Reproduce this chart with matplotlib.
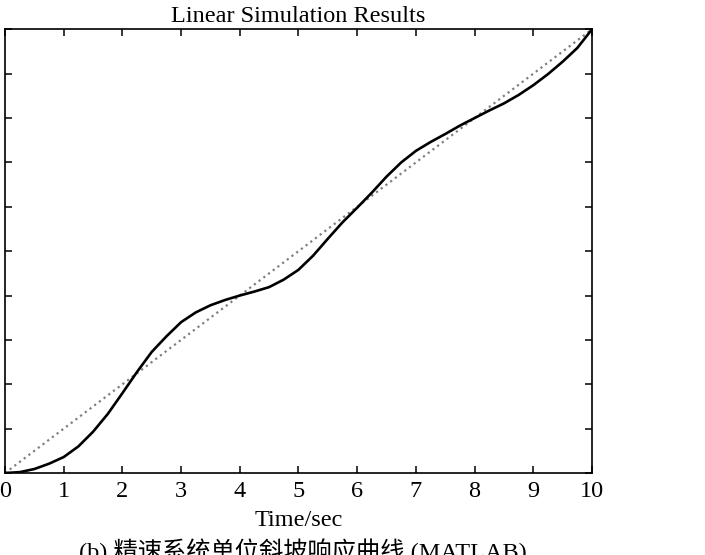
import matplotlib
matplotlib.use('Agg')
import matplotlib.pyplot as plt

# Ramp input (reference line)
ramp_t = [0, 10]
ramp_y = [0, 10]

# System response
time = [0.0, 0.25, 0.5, 0.75, 1.0, 1.25, 1.5, 1.75, 2.0, 2.25,
        2.5, 2.75, 3.0, 3.25, 3.5, 3.75, 4.0, 4.25, 4.5, 4.75,
        5.0, 5.25, 5.5, 5.75, 6.0, 6.25, 6.5, 6.75, 7.0, 7.25,
        7.5, 7.75, 8.0, 8.25, 8.5, 8.75, 9.0, 9.25, 9.5, 9.75, 10.0]
response = [0.0, 0.02, 0.09, 0.21, 0.36, 0.60, 0.93, 1.33, 1.80, 2.28,
            2.73, 3.08, 3.40, 3.62, 3.78, 3.90, 4.00, 4.09, 4.19, 4.36,
            4.58, 4.90, 5.28, 5.65, 5.98, 6.32, 6.68, 7.00, 7.26, 7.46,
            7.64, 7.83, 8.00, 8.17, 8.33, 8.52, 8.74, 8.99, 9.27, 9.58, 10.0]

xticks = list(range(0, 11))
yticks = list(range(0, 11))

serif = 'Liberation Serif'
fs = 17.5

fig = plt.figure(figsize=(7.05, 5.55), dpi=100)
ax = fig.add_axes([0.0071, 0.1477, 0.8326, 0.7995])

ax.plot(ramp_t, ramp_y, linestyle=':', color='0.5', linewidth=1.6)
ax.plot(time, response, color='black', linewidth=1.9)

ax.set_xlim(0, 10)
ax.set_ylim(0, 10)
ax.set_xticks(xticks)
ax.set_yticks(yticks)
ax.set_yticklabels([])
ax.tick_params(direction='in', length=5, width=1.1, top=True, right=True,
               pad=5.5, labelsize=fs)
for lbl in ax.get_xticklabels():
    lbl.set_family(serif)
for sp in ax.spines.values():
    sp.set_linewidth(1.2)

ax.set_title('Linear Simulation Results', family=serif, fontsize=fs, pad=5.5)
ax.set_xlabel('Time/sec', family=serif, fontsize=fs, labelpad=6)

# caption sits at the bottom edge, partly cut off as in the scan
fig.text(0.43, 1 - 551 / 555, '(b) 精速系统单位斜坡响应曲线 (MATLAB)',
         family=[serif, 'Noto Sans CJK SC'], fontsize=fs,
         ha='center', va='center')

fig.savefig('out.png', dpi=100)
